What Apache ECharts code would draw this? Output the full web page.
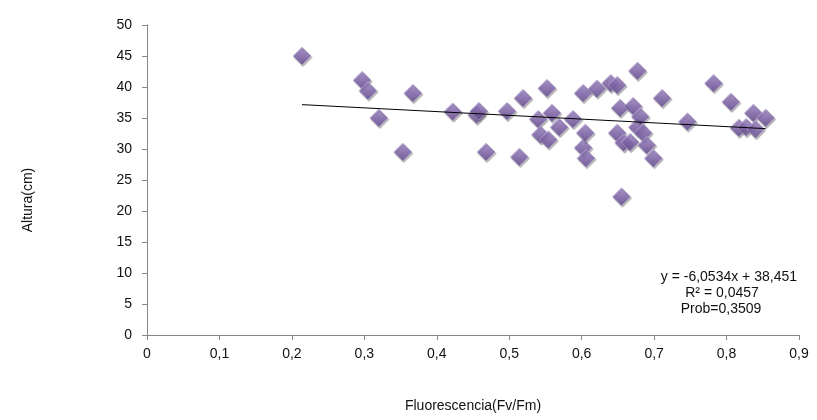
<!DOCTYPE html>
<html>
<head>
<meta charset="utf-8">
<script src="https://cdn.jsdelivr.net/npm/echarts@6/dist/echarts.min.js"></script>
<style>
  html, body { margin: 0; padding: 0; background: #fff; }
  #chart { width: 817px; height: 420px; }
</style>
</head>
<body>
<div id="chart"></div>
<script>
// Fv/Fm fluorescence readings and plant height (cm)
const fluorescencia = [
  0.214, 0.297, 0.305, 0.320, 0.353, 0.367, 0.422, 0.455, 0.458, 0.468,
  0.497, 0.514, 0.519, 0.540, 0.543, 0.552, 0.554, 0.559, 0.569, 0.588,
  0.602, 0.602, 0.605, 0.606, 0.621, 0.640, 0.649, 0.649, 0.653, 0.655,
  0.658, 0.667, 0.671, 0.677, 0.677, 0.681, 0.685, 0.690, 0.699, 0.711,
  0.746, 0.782, 0.806, 0.817, 0.827, 0.837, 0.840, 0.854
];
const altura = [
  45.0, 41.1, 39.4, 35.0, 29.5, 39.0, 36.0, 35.5, 36.1, 29.5,
  36.1, 28.7, 38.2, 34.8, 32.3, 39.8, 31.5, 35.8, 33.5, 34.8,
  39.0, 30.2, 32.6, 28.5, 39.7, 40.6, 40.3, 32.6, 36.6, 22.3,
  31.0, 31.1, 36.9, 42.6, 33.5, 35.2, 32.6, 30.6, 28.5, 38.2,
  34.4, 40.6, 37.6, 33.4, 33.5, 35.8, 33.2, 35.0
];

// Linear fit reported for the data
const pendiente = -6.0534;
const intercepto = 38.451;
const ecuacionTexto = 'y = -6,0534x + 38,451';
const r2Texto = 'R² = 0,0457';
const probTexto = 'Prob=0,3509';

const xTicks = { min: 0, max: 0.9, interval: 0.1 };
const yTicks = { min: 0, max: 50, interval: 5 };

const puntos = fluorescencia.map((x, i) => [x, altura[i]]);
const xMin = Math.min(...fluorescencia);
const xMax = Math.max(...fluorescencia);
const tendencia = [
  [xMin, pendiente * xMin + intercepto],
  [xMax, pendiente * xMax + intercepto]
];

const coma = v => String(Math.round(v * 10) / 10).replace('.', ',');
const FONT = '"Liberation Sans", Arial, sans-serif';
const FS = 14;
const axisGray = '#868686';
const textColor = '#111';

const chart = echarts.init(document.getElementById('chart'), null, { renderer: 'canvas' });
chart.setOption({
  animation: false,
  backgroundColor: '#ffffff',
  grid: { left: 147, right: 18, top: 25, bottom: 85, containLabel: false },
  xAxis: {
    type: 'value',
    min: xTicks.min, max: xTicks.max, interval: xTicks.interval,
    name: 'Fluorescencia(Fv/Fm)',
    nameLocation: 'middle',
    nameGap: 64,
    nameTextStyle: { fontFamily: FONT, fontSize: FS, color: textColor },
    axisLine: { show: true, onZero: false, lineStyle: { color: axisGray, width: 1 } },
    axisTick: { show: true, inside: false, length: 5, lineStyle: { color: axisGray } },
    axisLabel: { formatter: coma, fontFamily: FONT, fontSize: FS, color: textColor, margin: 12 },
    splitLine: { show: false }
  },
  yAxis: {
    type: 'value',
    min: yTicks.min, max: yTicks.max, interval: yTicks.interval,
    axisLine: { show: true, onZero: false, lineStyle: { color: axisGray, width: 1 } },
    axisTick: { show: true, inside: false, length: 5, lineStyle: { color: axisGray } },
    axisLabel: { fontFamily: FONT, fontSize: FS, color: textColor, margin: 15 },
    splitLine: { show: false }
  },
  series: [
    {
      type: 'scatter',
      data: puntos,
      symbol: 'diamond',
      symbolSize: [18, 18],
      itemStyle: {
        color: new echarts.graphic.LinearGradient(0, 0, 0, 1, [
          { offset: 0, color: '#a48dcc' },
          { offset: 0.5, color: '#8467b0' },
          { offset: 1, color: '#5e4488' }
        ]),
        borderColor: '#b9abd3',
        borderWidth: 0.8,
        shadowColor: 'rgba(60,60,60,0.45)',
        shadowBlur: 1,
        shadowOffsetX: 1,
        shadowOffsetY: 1.5
      },
      z: 2
    },
    {
      type: 'line',
      data: tendencia,
      symbol: 'none',
      lineStyle: { color: '#000', width: 1 },
      z: 3,
      silent: true
    }
  ],
  graphic: [
    {
      type: 'text', x: 28, y: 200, rotation: Math.PI / 2,
      style: { text: 'Altura(cm)', font: FS + 'px ' + FONT, fill: textColor, align: 'center', verticalAlign: 'middle' }
    },
    {
      type: 'text', x: 797, y: 277,
      style: { text: ecuacionTexto, font: FS + 'px ' + FONT, fill: textColor, align: 'right', verticalAlign: 'middle' }
    },
    {
      type: 'text', x: 722, y: 293,
      style: { text: r2Texto, font: FS + 'px ' + FONT, fill: textColor, align: 'center', verticalAlign: 'middle' }
    },
    {
      type: 'text', x: 721, y: 309,
      style: { text: probTexto, font: FS + 'px ' + FONT, fill: textColor, align: 'center', verticalAlign: 'middle' }
    }
  ]
});
</script>
</body>
</html>
